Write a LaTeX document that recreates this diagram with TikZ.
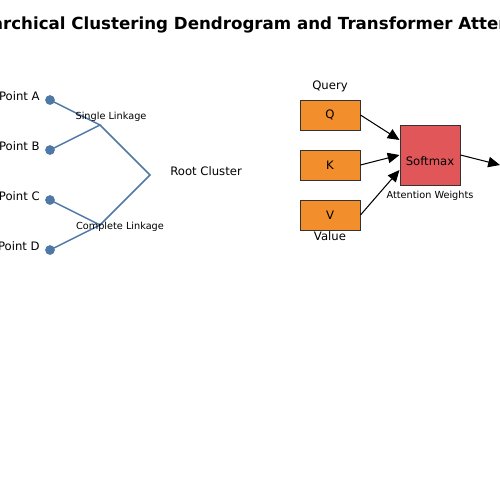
\documentclass[tikz,border=0pt]{standalone}
\usepackage{fontspec}
\setmainfont{DejaVu Sans}
\usetikzlibrary{arrows.meta,calc}
\definecolor{dblue}{HTML}{4E79A7}
\definecolor{borange}{HTML}{F28E2B}
\definecolor{bred}{HTML}{E15759}
\definecolor{edgegray}{HTML}{333333}
\tikzset{
  dot/.style={circle,fill=dblue,inner sep=0pt,minimum size=6.8pt},
  link/.style={draw=dblue,line width=1.1pt},
  lbl/.style={font=\fontsize{8.4}{10}\selectfont,inner sep=0pt},
  small/.style={font=\fontsize{7}{8.5}\selectfont,inner sep=0pt},
  ibox/.style={draw=edgegray,line width=0.7pt,fill=borange,minimum width=43.2pt,minimum height=21.6pt,inner sep=0pt,font=\fontsize{8.4}{10}\selectfont},
  sbox/.style={draw=edgegray,line width=0.7pt,fill=bred,minimum width=43.2pt,minimum height=43.2pt,inner sep=0pt},
  arr/.style={-{Triangle[length=8.5pt,width=7.5pt]},line width=0.75pt,black},
}
\begin{document}
\begin{tikzpicture}[x=0.72pt,y=-0.72pt]
\useasboundingbox (0,0) rectangle (500,500);
\clip (0,0) rectangle (500,500);
\fill[white] (0,0) rectangle (500,500);
% title
\node[font=\fontsize{12}{15}\selectfont\bfseries,inner sep=0pt] (title) at (250,24.5) {Hierarchical Clustering Dendrogram and Transformer Attention};
% dendrogram
\coordinate (J1) at (100,125);
\coordinate (J2) at (100,225);
\coordinate (R) at (150,175);
\node[dot] (A) at (50,100) {};
\node[dot] (B) at (50,150) {};
\node[dot] (C) at (50,200) {};
\node[dot] (D) at (50,250) {};
\draw[link] (A.center) -- (J1) -- (B.center);
\draw[link] (C.center) -- (J2) -- (D.center);
\draw[link] (J1) -- (R) -- (J2);
\node[dot] at (A) {};
\node[dot] at (B) {};
\node[dot] at (C) {};
\node[dot] at (D) {};
\node[lbl,anchor=east] (lA) at (40,96) {Point A};
\node[lbl,anchor=east] (lB) at (40,146) {Point B};
\node[lbl,anchor=east] (lC) at (40,196) {Point C};
\node[lbl,anchor=east] (lD) at (40,246) {Point D};
\node[small] (sl) at (111,116.5) {Single Linkage};
\node[small] (cl) at (120,226.5) {Complete Linkage};
\node[lbl,anchor=west] (root) at (170,171) {Root Cluster};
% attention
\node[ibox] (Q) at (330,115) {Q};
\node[ibox] (K) at (330,165) {K};
\node[ibox] (V) at (330,215) {V};
\node[sbox] (S) at (430,155) {};
\node[lbl] (stext) at (430,161) {Softmax};
\node[ibox,anchor=west] (O) at (500,165) {};
\node[lbl] (qlab) at (330,86) {Query};
\node[lbl] (vlab) at (330,236) {Value};
\node[small] (aw) at (430,196) {Attention Weights};
\draw[arr] (Q.east) -- ($(S.west)+(0,-15)$);
\draw[arr] (K.east) -- (S.west);
\draw[arr] (V.east) -- ($(S.west)+(0,15)$);
\draw[arr] (S.east) -- (O.west);
\end{tikzpicture}
\end{document}
